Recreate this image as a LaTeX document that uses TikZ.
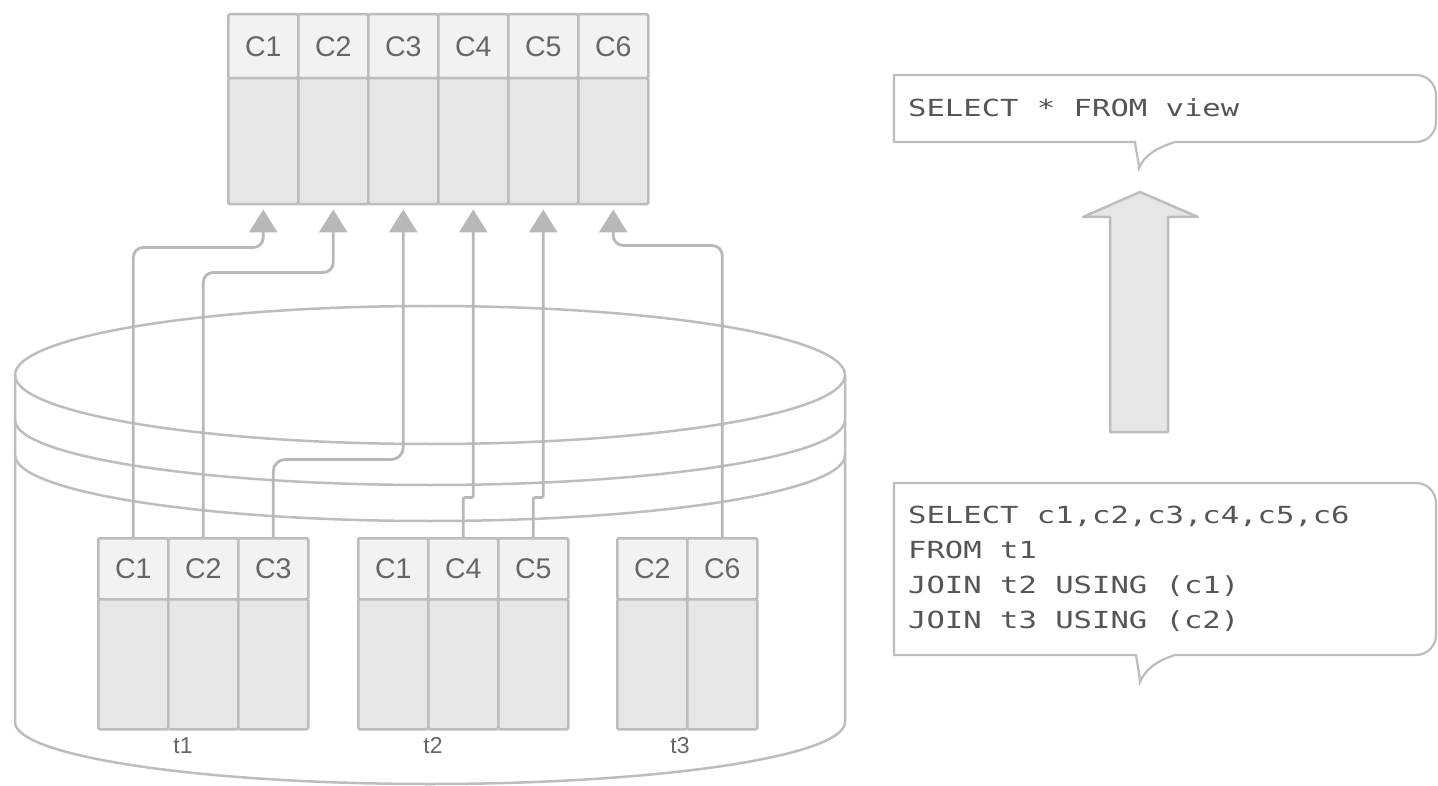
\documentclass[tikz,border=0pt]{standalone}
\usepackage{fontspec}
\setmainfont{Liberation Sans}
\newfontfamily\codefont{DejaVu Sans Mono}[FakeStretch=1.3]
\usetikzlibrary{arrows.meta,calc}
\definecolor{lg}{HTML}{BDBDBD}
\definecolor{cg}{HTML}{B8B8B8}
\definecolor{hfill}{HTML}{F2F2F2}
\definecolor{bfill}{HTML}{E6E6E6}
\definecolor{tg}{HTML}{666666}
\definecolor{codec}{HTML}{555555}
\begin{document}
\begin{tikzpicture}[x=1pt,y=-1pt,
  cell/.style={draw=lg, line width=2.5pt, rounded corners=1.5pt, inner sep=0pt, anchor=north west, minimum width=70pt},
  hdr/.style={cell, fill=hfill, text=tg, font=\fontsize{28.5}{30}\selectfont},
  vhdr/.style={hdr, minimum height=64pt},
  vbdy/.style={cell, fill=bfill, minimum height=126pt},
  thdr/.style={hdr, minimum height=61pt},
  tbdy/.style={cell, fill=bfill, minimum height=130pt},
  lbl/.style={text=tg, font=\fontsize{23}{25}\selectfont, inner sep=0pt},
  code/.style={text=codec, font=\codefont\fontsize{23.5}{35}\selectfont, inner sep=0pt},
  conn/.style={draw=cg, line width=2.8pt, -{Triangle[width=28pt,length=23pt,fill=cg]}, shorten >=4pt},
  outl/.style={draw=lg, line width=2.5pt},
]
\useasboundingbox (0,0) rectangle (1438,786);
\fill[white] (0,0) rectangle (1438,786);

% cylinder
\draw[outl] (430,375) ellipse [x radius=415pt, y radius=69pt];
\draw[outl] (15,420) arc [start angle=180, end angle=360, x radius=415pt, y radius=65pt];
\draw[outl] (15,455) arc [start angle=180, end angle=360, x radius=415pt, y radius=66pt];
\draw[outl] (15,375) -- (15,722) arc [start angle=180, end angle=360, x radius=415pt, y radius=62pt] -- (845,375);

% view table
\foreach \i/\lab in {1/C1,2/C2,3/C3,4/C4,5/C5,6/C6}{
  \node[vhdr] (v\i) at ({227+70*(\i-1)},13) {\lab};
  \node[vbdy] (vb\i) at ({227+70*(\i-1)},77) {};
}

% t1
\node[thdr] (t1a) at (97,537) {C1};
\node[thdr] (t1b) at (167,537) {C2};
\node[thdr] (t1c) at (237,537) {C3};
\node[tbdy] (t1ab) at (97,598) {};
\node[tbdy] (t1bb) at (167,598) {};
\node[tbdy] (t1cb) at (237,598) {};
% t2
\node[thdr] (t2a) at (357,537) {C1};
\node[thdr] (t2b) at (427,537) {C4};
\node[thdr] (t2c) at (497,537) {C5};
\node[tbdy] (t2ab) at (357,598) {};
\node[tbdy] (t2bb) at (427,598) {};
\node[tbdy] (t2cb) at (497,598) {};
% t3
\node[thdr] (t3a) at (616,537) {C2};
\node[thdr] (t3b) at (686,537) {C6};
\node[tbdy] (t3ab) at (616,598) {};
\node[tbdy] (t3bb) at (686,598) {};

\node[lbl] (l1) at (183,746) {t1};
\node[lbl] (l2) at (433,746) {t2};
\node[lbl] (l3) at (680,746) {t3};

% connectors
\draw[conn, rounded corners=10pt] (t1a.north) |- ([yshift=-42pt]vb1.south) -- (vb1.south);
\draw[conn, rounded corners=10pt] (t1b.north) |- ([yshift=-67pt]vb2.south) -- (vb2.south);
\draw[conn, rounded corners=12pt] (t1c.north) |- ([yshift=-254pt]vb3.south) -- (vb3.south);
\draw[conn, rounded corners=2pt] (t2b.north) |- ([yshift=-292pt]vb4.south) -- (vb4.south);
\draw[conn, rounded corners=2pt] (t2c.north) |- ([yshift=-292pt]vb5.south) -- (vb5.south);
\draw[conn, rounded corners=10pt] (t3b.north) |- ([yshift=-40pt]vb6.south) -- (vb6.south);

% bubble 1
\draw[outl, line width=2.2pt] (894,75) -- (1416,75) arc [start angle=90, end angle=0, radius=20pt]
  -- (1436,122) arc [start angle=0, end angle=-90, radius=20pt]
  -- (1175,142) .. controls (1156,148) and (1144,156) .. (1139,168)
  .. controls (1138,158) and (1136,150) .. (1135,142) -- (894,142) -- cycle;
\node[code, anchor=base west] (q1) at (908,117) {SELECT * FROM view};

% bubble 2
\draw[outl, line width=2.2pt] (894,483) -- (1416,483) arc [start angle=90, end angle=0, radius=20pt]
  -- (1436,635) arc [start angle=0, end angle=-90, radius=20pt]
  -- (1175,655) .. controls (1156,661) and (1145,670) .. (1140,682)
  .. controls (1139,672) and (1137,662) .. (1136,655) -- (894,655) -- cycle;
\node[code, anchor=north west, align=left] (q2) at (908,506) {SELECT c1,c2,c3,c4,c5,c6\\FROM t1\\JOIN t2 USING (c1)\\JOIN t3 USING (c2)};

% block arrow
\draw[outl, fill=bfill, line join=round] (1110,432) -- (1110,217) -- (1083,217) -- (1140,192) -- (1198,217) -- (1168,217) -- (1168,432) -- cycle;
\end{tikzpicture}
\end{document}
